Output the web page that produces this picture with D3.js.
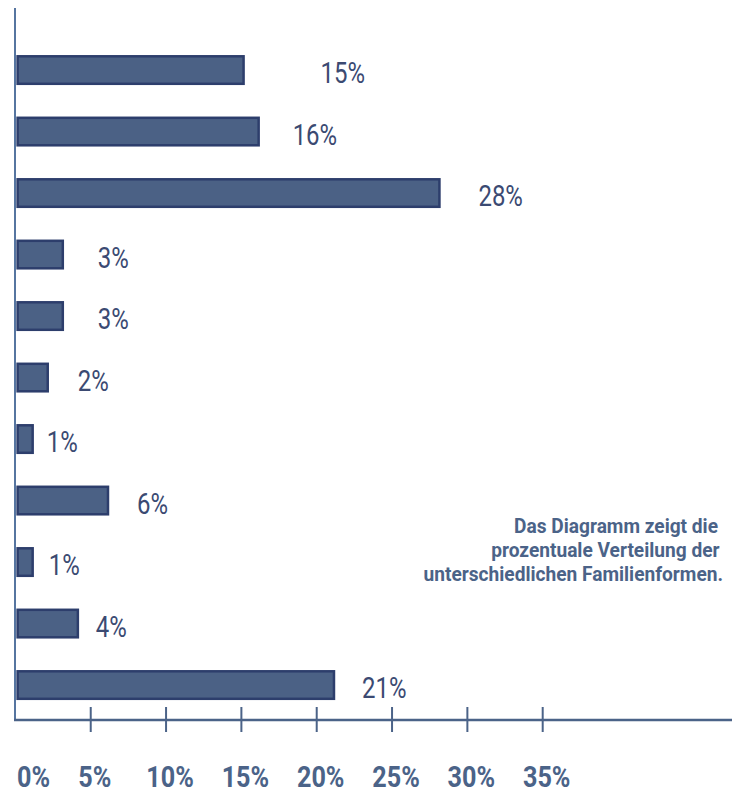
<!DOCTYPE html>
<html>
<head>
<meta charset="utf-8">
<script src="https://cdn.jsdelivr.net/npm/d3@7/dist/d3.min.js"></script>
<style>
  html, body { margin: 0; padding: 0; background: #ffffff; }
  svg { display: block; }
  text { font-family: Roboto, "Liberation Sans", sans-serif; }
</style>
</head>
<body>
<svg id="chart" width="732" height="793"></svg>
<script>
// Share of each family form, in percent (top to bottom)
const values = [15, 16, 28, 3, 3, 2, 1, 6, 1, 4, 21];
const valueLabels = ["15%", "16%", "28%", "3%", "3%", "2%", "1%", "6%", "1%", "4%", "21%"];
const tickValues = [0, 5, 10, 15, 20, 25, 30, 35];
const tickLabels = ["0%", "5%", "10%", "15%", "20%", "25%", "30%", "35%"];
const noteLines = [
  "Das Diagramm zeigt die",
  "prozentuale Verteilung der",
  "unterschiedlichen Familienformen."
];

// Horizontal spacing between each bar end and its value label
const labelGap = [77, 34, 39, 35, 35, 30, 14, 29, 16, 18, 28];

const svg = d3.select("#chart");
const axisColor = "#4b6388";
const barFill = "#4b6185";
const barStroke = "#2d3e6c";
const labelColor = "#3b4a72";

const x = d3.scaleLinear().domain([0, 35]).range([15.4, 542.7]);
const y = d3.scaleBand()
  .domain(d3.range(values.length))
  .range([39.3, 715.8])
  .paddingInner(0.512)
  .paddingOuter(0.256);

const axisY = 720;

// Horizontal squeeze that gives a condensed face: a sample string is
// measured and scaled to the width it should take up.
function squeeze(size, weight, sample, width) {
  const probe = svg.append("text")
    .attr("font-size", size)
    .attr("font-weight", weight)
    .text(sample);
  const w = probe.node().getComputedTextLength();
  probe.remove();
  return width / w;
}

// Bars
svg.append("g")
  .selectAll("rect")
  .data(values)
  .join("rect")
  .attr("x", x(0) + 2.2)
  .attr("y", (d, i) => y(i) + 1.25)
  .attr("width", d => x(d) - x(0))
  .attr("height", y.bandwidth() - 2.5)
  .attr("fill", barFill)
  .attr("stroke", barStroke)
  .attr("stroke-width", 2.5);

// Value labels
const valueScale = squeeze(30, 400, "15%", 44.5);
svg.append("g")
  .selectAll("text")
  .data(values)
  .join("text")
  .attr("transform", (d, i) =>
    `translate(${x(d) + 2.2 + labelGap[i]},${y(i) + y.bandwidth() / 2 + 13}) scale(${valueScale},1)`)
  .attr("fill", labelColor)
  .attr("font-size", 30)
  .attr("font-weight", 400)
  .text((d, i) => valueLabels[i]);

// Axes
svg.append("line")
  .attr("x1", 15).attr("x2", 15)
  .attr("y1", 8).attr("y2", axisY + 1)
  .attr("stroke", "#5675a0").attr("stroke-width", 2);

svg.append("line")
  .attr("x1", 14).attr("x2", 732)
  .attr("y1", axisY).attr("y2", axisY)
  .attr("stroke", axisColor).attr("stroke-width", 2.5);

svg.append("g")
  .selectAll("line")
  .data(tickValues.filter(v => v > 0))
  .join("line")
  .attr("x1", d => x(d)).attr("x2", d => x(d))
  .attr("y1", 707).attr("y2", 732)
  .attr("stroke", axisColor).attr("stroke-width", 2);

// Tick labels, kept to the right of the vertical axis
const tickScale = squeeze(29.5, "bold", "10%", 47.5);
svg.append("g")
  .selectAll("text")
  .data(tickValues)
  .join("text")
  .attr("fill", axisColor)
  .attr("font-size", 29.5)
  .attr("font-weight", "bold")
  .text((d, i) => tickLabels[i])
  .each(function(d) {
    const w = this.getComputedTextLength() * tickScale;
    let left = x(d) + 4 - w / 2;
    if (left < 17) left = 17;
    d3.select(this).attr("transform", `translate(${left},787) scale(${tickScale},1)`);
  });

// Note
const noteScale = squeeze(21, "bold", noteLines[0], 204);
svg.append("g")
  .selectAll("text")
  .data(noteLines)
  .join("text")
  .attr("transform", (d, i) => `translate(${[718, 719.5, 723][i]},${533.3 + i * 24}) scale(${noteScale},1)`)
  .attr("text-anchor", "end")
  .attr("fill", axisColor)
  .attr("font-size", 21)
  .attr("font-weight", "bold")
  .text(d => d);
</script>
</body>
</html>
